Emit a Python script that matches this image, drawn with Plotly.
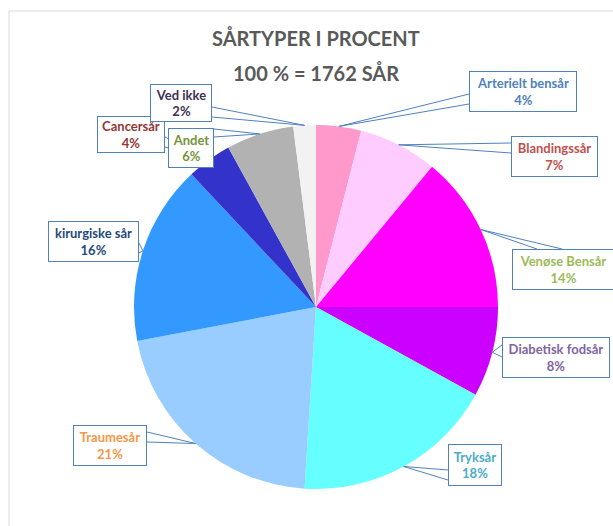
import math
import plotly.graph_objects as go

# ---- data ----
labels = ["Arterielt bensår", "Blandingssår", "Venøse Bensår", "Diabetisk fodsår",
          "Tryksår", "Traumesår", "kirurgiske sår", "Cancersår", "Andet", "Ved ikke"]
values = [4, 7, 14, 8, 18, 21, 16, 4, 6, 2]
slice_colors = ["#FF99CC", "#FFCCFF", "#FF00FF", "#CC00FF", "#66FFFF",
                "#99CCFF", "#3399FF", "#3333CC", "#B2B2B2", "#F2F2F2"]
label_colors = ["#4F81BD", "#C0504D", "#9BBB59", "#8064A2", "#4BACC6",
                "#F79646", "#1F497D", "#953735", "#77933C", "#403152"]
title_lines = ["SÅRTYPER I PROCENT", "100 % = 1762 SÅR"]

# ---- layout (pixels) ----
W, H = 613, 526
CX, CY, R = 316, 307, 182
# callout boxes: x0, y0, x1, y1, side of attachment, base start, base end
boxes = {
    "Arterielt bensår": (469, 71, 577, 112, "left", 94, 104),
    "Blandingssår": (511, 136, 598, 177, "left", 143, 153),
    "Venøse Bensår": (512, 249, 614, 290, "top", 537, 562),
    "Diabetisk fodsår": (502, 337, 610, 378, "left", 345, 357),
    "Tryksår": (448, 444, 502, 486, "left", 470, 480),
    "Traumesår": (73, 425, 147, 466, "right", 432, 442),
    "kirurgiske sår": (48, 221, 139, 262, "right", 243, 253),
    "Cancersår": (97, 116, 165, 153, "right", 137, 147),
    "Ved ikke": (150, 84, 212, 122, "right", 107, 117),
    "Andet": (168, 128, 214, 168, "right", 129, 137),
}
draw_order = ["Arterielt bensår", "Blandingssår", "Venøse Bensår", "Diabetisk fodsår",
              "Tryksår", "Traumesår", "kirurgiske sår", "Cancersår", "Ved ikke", "Andet"]
FONT = "Lato, 'Open Sans', sans-serif"
EDGE = "#4F81BD"


def px(x):
    return x / W


def py(y):
    return 1 - y / H


fig = go.Figure(go.Pie(
    labels=labels, values=values, sort=False, direction="clockwise", rotation=0,
    marker=dict(colors=slice_colors, line=dict(width=0)),
    textinfo="none", showlegend=False, hoverinfo="label+percent",
    domain=dict(x=[px(CX - R), px(CX + R)], y=[py(CY + R), py(CY - R)]),
))

# slice mid-angle tips (derived from the data)
total = sum(values)
tips = {}
cum = 0
for lab, v in zip(labels, values):
    th = (cum + v / 2) / total * 2 * math.pi
    tips[lab] = (CX + R * math.sin(th), CY - R * math.cos(th))
    cum += v

shapes = [dict(type="rect", xref="paper", yref="paper", x0=px(9), y0=py(560),
               x1=px(640), y1=py(11), line=dict(color="#D9D9D9", width=1),
               layer="below")]
annotations = []
for lab in draw_order:
    i = labels.index(lab)
    x0, y0, x1, y1, side, b0, b1 = boxes[lab]
    tx, ty = tips[lab]
    if side == "left":
        a, b = (x0, b0), (x0, b1)
    elif side == "right":
        a, b = (x1, b0), (x1, b1)
    else:
        a, b = (b0, y0), (b1, y0)
    path = "M {},{} L {},{} L {},{}".format(px(a[0]), py(a[1]), px(tx), py(ty), px(b[0]), py(b[1]))
    shapes.append(dict(type="path", xref="paper", yref="paper", path=path,
                       line=dict(color=EDGE, width=1), fillcolor="white", layer="above"))
    annotations.append(dict(
        xref="paper", yref="paper", x=px((x0 + x1) / 2), y=py((y0 + y1) / 2),
        xanchor="center", yanchor="middle", showarrow=False,
        text="<b>{}<br>{}%</b>".format(lab, values[i]),
        font=dict(family=FONT, size=13, color=label_colors[i]),
        width=x1 - x0 - 2, height=y1 - y0 - 2, align="center", valign="middle",
        bgcolor="white", bordercolor=EDGE, borderwidth=1, borderpad=0,
    ))

for k, (t, yc) in enumerate(zip(title_lines, [38, 73])):
    annotations.append(dict(
        xref="paper", yref="paper", x=px(316), y=py(yc), xanchor="center", yanchor="middle",
        showarrow=False, text="<b>{}</b>".format(t),
        font=dict(family=FONT, size=20, color="#595959")))

fig.update_layout(
    width=W, height=H, margin=dict(l=0, r=0, t=0, b=0),
    paper_bgcolor="white", plot_bgcolor="white",
    shapes=shapes, annotations=annotations,
)
fig.write_html("out.html", config={"displayModeBar": False},
               post_script="document.body.style.margin='0';document.body.style.overflow='hidden';")
